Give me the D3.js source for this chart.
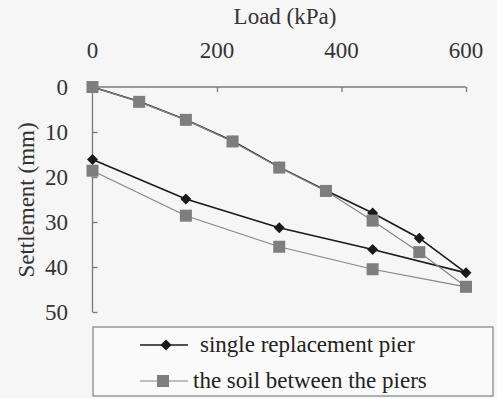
<!DOCTYPE html>
<html><head><meta charset="utf-8">
<script src="https://cdn.jsdelivr.net/npm/d3@7"></script>
<style>svg text{font-family:'Liberation Serif' !important;}</style>
</head><body style="margin:0;background:#f6f6f6">
<script>
// Data
const loadPier = [0, 75, 150, 225, 300, 375, 450, 525, 600, 450, 300, 150, 0];
const settlePier = [0, 3.2, 7.3, 12, 17.8, 23, 28, 33.6, 41.3, 36.1, 31.3, 24.9, 16.1];
const loadSoil = [0, 75, 150, 225, 300, 375, 450, 525, 600, 450, 300, 150, 0];
const settleSoil = [0, 3.3, 7.3, 12.1, 17.9, 23.1, 29.7, 36.7, 44.4, 40.5, 35.5, 28.6, 18.6];
const xTicks = [0, 200, 400, 600];
const yTicks = [0, 10, 20, 30, 40, 50];
const seriesNames = ["single replacement pier", "the soil between the piers"];

const W = 497, H = 398;
const FONT = "'Liberation Serif'";
const svg = d3.select("body").append("svg").attr("width", W).attr("height", H).style("display", "block");
svg.append("rect").attr("width", W).attr("height", H).attr("fill", "#f6f6f6");

const x = d3.scaleLinear().domain([0, 600]).range([92.5, 466]);
const y = d3.scaleLinear().domain([0, 50]).range([87, 312]);
const fs = "23px";
const axisCol = "#7a7a7a";
const txtCol = "#333";
function txt(sel) { return sel.style("font-family", FONT, "important").style("font-size", fs).attr("fill", txtCol); }

// top x axis
const gx = svg.append("g").attr("transform", `translate(0,${y(0)})`)
  .call(d3.axisBottom(x).tickValues(xTicks).tickSize(5).tickFormat(""));
gx.select(".domain").attr("stroke", axisCol).attr("stroke-width", 1.3).attr("d", `M${x(0)},0H${x(600)}`);
gx.selectAll(".tick line").attr("stroke", axisCol).attr("stroke-width", 1.3);
txt(svg.append("g").selectAll("text").data(xTicks).join("text")
  .attr("x", d => x(d)).attr("y", 58).attr("text-anchor", "middle").text(d => d));

// y axis
const gy = svg.append("g").attr("transform", `translate(${x(0)},0)`)
  .call(d3.axisRight(y).tickValues(yTicks).tickSize(5).tickFormat(""));
gy.select(".domain").attr("stroke", axisCol).attr("stroke-width", 1.3).attr("d", `M0,${y(0)}V${y(50)}`);
gy.selectAll(".tick line").attr("stroke", axisCol).attr("stroke-width", 1.3);
txt(svg.append("g").selectAll("text").data(yTicks).join("text")
  .attr("x", 68).attr("y", d => y(d) + 8).attr("text-anchor", "end").text(d => d));

// titles
txt(svg.append("text").attr("x", 285).attr("y", 24).attr("text-anchor", "middle").text("Load (kPa)"));
txt(svg.append("text").attr("transform", "translate(34,200) rotate(-90)").attr("text-anchor", "middle").text("Settlement (mm)"));

const line = d3.line().x(d => x(d[0])).y(d => y(d[1]));
const pier = loadPier.map((l, i) => [l, settlePier[i]]);
const soil = loadSoil.map((l, i) => [l, settleSoil[i]]);

const soilCol = "#858585", pierCol = "#1a1a1a";
const diamondPath = d3.symbol().type(d3.symbolSquare).size(60)();
// pier series
svg.append("path").datum(pier).attr("d", line).attr("fill", "none").attr("stroke", pierCol).attr("stroke-width", 1.6);
svg.append("g").selectAll("path").data(pier).join("path")
  .attr("d", diamondPath)
  .attr("transform", d => `translate(${x(d[0])},${y(d[1])}) rotate(45)`)
  .attr("fill", pierCol);
// soil series
svg.append("path").datum(soil).attr("d", line).attr("fill", "none").attr("stroke", soilCol).attr("stroke-width", 1.2);
svg.append("g").selectAll("rect").data(soil).join("rect")
  .attr("x", d => x(d[0]) - 6).attr("y", d => y(d[1]) - 6).attr("width", 12).attr("height", 12)
  .attr("fill", "#7e7e7e");

// legend
const lg = svg.append("g");
lg.append("rect").attr("x", 93).attr("y", 327).attr("width", 400).attr("height", 69)
  .attr("fill", "#fafafa").attr("stroke", "#8a8a8a").attr("stroke-width", 1.3);
const legY = [345, 381];
lg.append("line").attr("x1", 140).attr("x2", 188).attr("y1", legY[0]).attr("y2", legY[0]).attr("stroke", pierCol).attr("stroke-width", 1.6);
lg.append("path").attr("d", diamondPath).attr("transform", `translate(166,${legY[0]}) rotate(45)`).attr("fill", pierCol);
lg.append("line").attr("x1", 140).attr("x2", 188).attr("y1", legY[1]).attr("y2", legY[1]).attr("stroke", soilCol).attr("stroke-width", 1.2);
lg.append("rect").attr("x", 157).attr("y", legY[1] - 6).attr("width", 12).attr("height", 12).attr("fill", "#7e7e7e");
txt(lg.append("text").attr("x", 200).attr("y", legY[0] + 7).text(seriesNames[0])).attr("fill", "#222");
txt(lg.append("text").attr("x", 193).attr("y", legY[1] + 7).text(seriesNames[1])).attr("fill", "#222");
</script>
</body></html>
